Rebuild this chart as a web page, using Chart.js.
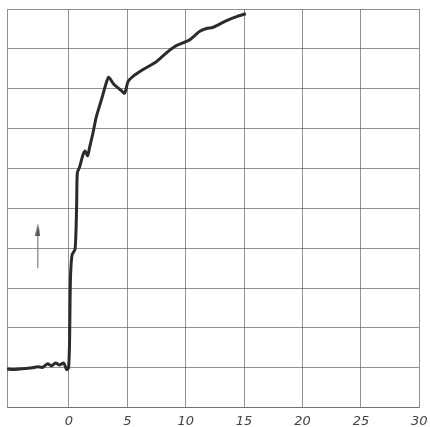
<!DOCTYPE html>
<html>
<head>
<meta charset="utf-8">
<script src="https://cdn.jsdelivr.net/npm/chart.js@4/dist/chart.umd.min.js"></script>
<style>
  html, body { margin: 0; padding: 0; background: #fff; }
  #wrap { width: 430px; height: 427px; }
</style>
</head>
<body>
<div id="wrap"><canvas id="curveChart"></canvas></div>
<script>
// trace (x: time divisions, y: grid units)
var timeValues = [-5.32, -4.66, -3.80, -3.11, -2.68, -2.26, -1.83, -1.48, -1.14, -0.80, -0.45, -0.20, -0.03,
  0.06, 0.10, 0.15, 0.27, 0.53, 0.66, 0.72, 0.92, 1.20, 1.39, 1.60, 1.78, 2.06, 2.35, 2.78, 3.15, 3.40,
  3.77, 4.20, 4.43, 4.78, 5.06, 5.49, 6.35, 7.07, 7.50, 8.35, 9.07, 9.92, 10.35, 11.21, 11.78, 12.35,
  13.50, 14.36, 15.15];
var signalValues = [0.97, 0.96, 0.98, 1.00, 1.03, 1.01, 1.10, 1.05, 1.12, 1.07, 1.12, 0.96, 1.00,
  1.70, 2.70, 3.38, 3.83, 3.98, 5.04, 5.89, 6.04, 6.34, 6.44, 6.32, 6.54, 6.89, 7.30, 7.72, 8.10, 8.29,
  8.14, 8.02, 7.97, 7.89, 8.18, 8.31, 8.48, 8.60, 8.68, 8.90, 9.06, 9.17, 9.23, 9.44, 9.51, 9.54,
  9.71, 9.81, 9.88];

// little direction arrow drawn on the left
var arrowX = [-2.66, -2.66];
var arrowY = [3.50, 4.47];

var xTicks = [0, 5, 10, 15, 20, 25, 30];
var xMin = -5.3;
var xMax = 30;
var yMin = 0;
var yMax = 10;

var curvePoints = timeValues.map(function (t, i) {
  return { x: t, y: signalValues[i] };
});
var arrowPoints = arrowX.map(function (a, i) {
  return { x: a, y: arrowY[i] };
});

// narrow arrow head
var head = document.createElement("canvas");
head.width = 5;
head.height = 13;
var hctx = head.getContext("2d");
hctx.fillStyle = "#555";
hctx.beginPath();
hctx.moveTo(2.5, 0);
hctx.lineTo(5, 13);
hctx.lineTo(0, 13);
hctx.closePath();
hctx.fill();

var gridColor = "rgba(100, 100, 100, 0.7)";

var ctx = document.getElementById("curveChart").getContext("2d");
var curveChart = new Chart(ctx, {
  type: "line",
  data: {
    datasets: [
      {
        data: curvePoints,
        borderColor: "#2b2b2b",
        borderWidth: 3,
        pointRadius: 0,
        tension: 0.25,
        fill: false
      },
      {
        data: arrowPoints,
        borderColor: "#666",
        borderWidth: 1,
        pointRadius: [0, 6],
        pointStyle: ["circle", head],
        fill: false
      }
    ]
  },
  options: {
    responsive: true,
    maintainAspectRatio: false,
    animation: false,
    layout: {
      padding: { left: 7, top: 9, right: 10.7, bottom: 0 }
    },
    plugins: {
      legend: { display: false },
      tooltip: { enabled: false }
    },
    scales: {
      x: {
        type: "linear",
        min: xMin,
        max: xMax,
        afterBuildTicks: function (axis) {
          axis.ticks = xTicks.map(function (v) { return { value: v }; });
        },
        afterFit: function (axis) {
          axis.paddingLeft = 0;
          axis.paddingRight = 0;
          axis.height = 19.3;
        },
        grid: { color: gridColor, lineWidth: 1, drawTicks: false },
        border: { display: true, color: gridColor, width: 1 },
        ticks: {
          padding: 8,
          color: "#444",
          maxRotation: 0,
          font: { family: "DejaVu Sans", size: 13, style: "italic", lineHeight: 0.85 }
        }
      },
      y: {
        type: "linear",
        min: yMin,
        max: yMax,
        ticks: { display: false, stepSize: 1 },
        grid: { color: gridColor, lineWidth: 1, drawTicks: false },
        border: { display: true, color: gridColor, width: 1 }
      }
    }
  }
});
</script>
</body>
</html>
